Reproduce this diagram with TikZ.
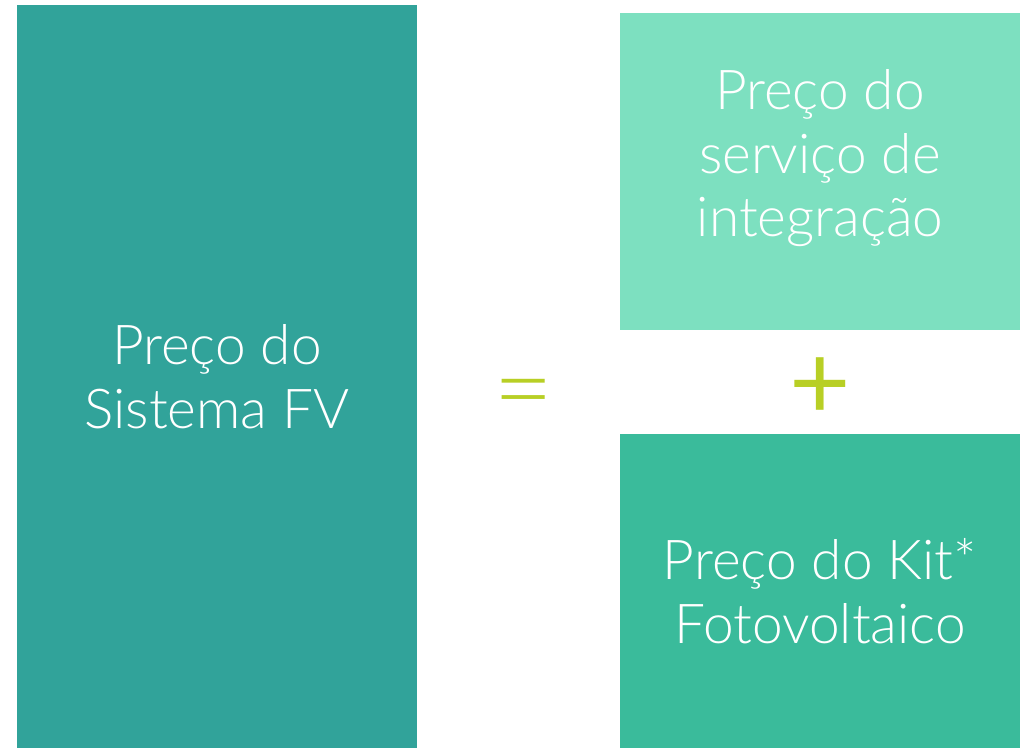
\documentclass[tikz,border=0pt]{standalone}
\usepackage{fontspec}
\setmainfont{Lato}[UprightFont=* Light]
\newfontfamily\simbolofont{Lato}
\usepackage{tikz}
\usetikzlibrary{positioning, calc}
\definecolor{fvteal}{HTML}{31A39A}
\definecolor{fvmint}{HTML}{7DE0C0}
\definecolor{fvgreen}{HTML}{3ABB9B}
\definecolor{fvlime}{HTML}{B8CF25}

\begin{document}
\begin{tikzpicture}[
    x=1pt, y=-1pt,
    box/.style={inner sep=0pt, minimum width=400pt, align=center, text=white, font=\fontsize{55}{63.5}\selectfont},
    simbolo/.style={inner sep=0pt, text=fvlime}
]
    \useasboundingbox (0,0) rectangle (1030,748);

    % Boxes
    \node[box, fill=fvteal, minimum height=743pt] (sistema) at (217,376.5) {Preço do\\Sistema FV};
    \node[box, fill=fvmint, minimum height=317pt] (servico) at (820,171.5) {};
    \node[box, fill=fvgreen, minimum height=314pt] (kit) at (820,591) {Preço do Kit*\\Fotovoltaico};

    % Text of the upper box
    \node[box] (servicotxt) at ($(servico.center)+(0,-13)$) {Preço do\\serviço de\\integração};

    % Symbols
    \node[simbolo, font=\fontsize{104}{104}\selectfont] (igual) at (524,402) {=};
    \node[simbolo, font=\simbolofont\fontsize{106}{106}\selectfont] (mais) at (820,389) {+};
\end{tikzpicture}
\end{document}
